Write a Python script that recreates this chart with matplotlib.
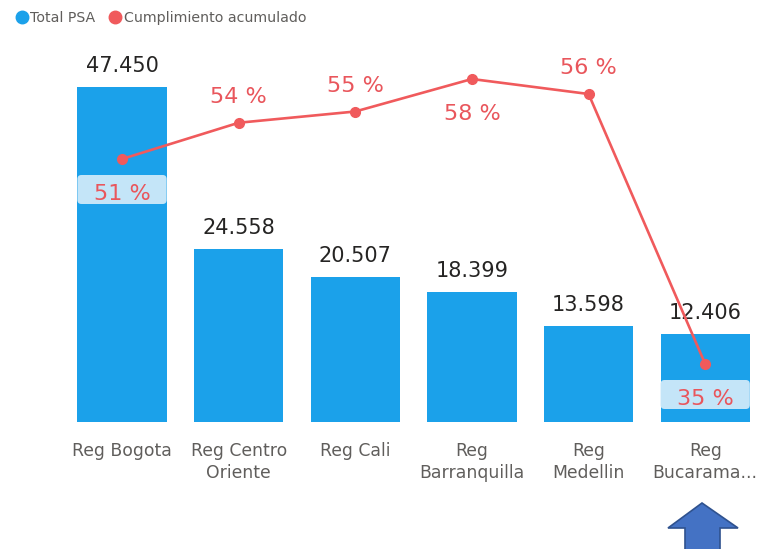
import matplotlib
matplotlib.use("Agg")
import matplotlib.pyplot as plt
from matplotlib.lines import Line2D
from matplotlib.patches import FancyBboxPatch, Polygon
from matplotlib.transforms import IdentityTransform

# data
regions = ["Reg Bogota", "Reg Centro\nOriente", "Reg Cali",
           "Reg\nBarranquilla", "Reg\nMedellin", "Reg\nBucarama..."]
total_psa = [47450, 24558, 20507, 18399, 13598, 12406]
cumplimiento = [51.2, 54.1, 55.0, 57.6, 56.4, 34.8]
series_names = ["Total PSA", "Cumplimiento acumulado"]

# label side for the line labels: 1 = above point, -1 = below point
label_side = [-1, 1, 1, -1, 1, -1]

BAR_COLOR = "#1BA1EA"
LINE_COLOR = "#F05A5C"
PCT_COLOR = "#E9565C"
TEXT_DARK = "#252423"
TEXT_GRAY = "#605E5C"
BOX_COLOR = "#C4E5F8"

W, H = 758, 549


def fx(x):
    return x / W


def fy(y):
    return 1 - y / H


fig = plt.figure(figsize=(W / 100, H / 100), dpi=100)
ax = fig.add_axes([fx(63.7), fy(422), 694 / W, 381 / H])

xs = list(range(len(regions)))
ax.bar(xs, total_psa, width=0.765, color=BAR_COLOR, zorder=1)
ax.set_xlim(-0.5, 5.45)
ax.set_ylim(0, 54000)

for x, v in zip(xs, total_psa):
    ax.annotate(f"{v:,}".replace(",", "."), (x, v), xytext=(0, 10.8),
                textcoords="offset points", ha="center", va="baseline",
                fontsize=15, color=TEXT_DARK)

ax.set_xticks(xs)
ax.set_xticklabels(regions, fontsize=12.4, color=TEXT_GRAY, linespacing=1.3)
ax.tick_params(axis="x", length=0, pad=14.5)
ax.set_yticks([])
for s in ax.spines.values():
    s.set_visible(False)

# secondary axis for the line
ax2 = ax.twinx()
ax2.set_ylim(30.16, 60.64)
ax2.set_yticks([])
for s in ax2.spines.values():
    s.set_visible(False)

# light boxes behind labels that sit inside a bar
fig.canvas.draw()
bar_half_px = 0.765 / 2 * 694 / 5.95
for x, v, side, b in zip(xs, cumplimiento, label_side, total_psa):
    px, py = ax2.transData.transform((x, v))
    _, bar_top = ax.transData.transform((x, b))
    if side < 0 and py - 45 < bar_top:
        box = FancyBboxPatch((px - bar_half_px, py - 45), 2 * bar_half_px, 29,
                             boxstyle="round,pad=0,rounding_size=4",
                             transform=IdentityTransform(), facecolor=BOX_COLOR,
                             edgecolor="none", zorder=2)
        ax2.add_artist(box)

ax2.plot(xs, cumplimiento, color=LINE_COLOR, lw=1.9, marker="o",
         markersize=7, zorder=3)

for x, v, side in zip(xs, cumplimiento, label_side):
    off = 14.4 if side > 0 else -29.5
    ax2.annotate(f"{round(v)} %", (x, v), xytext=(0, off),
                 textcoords="offset points", ha="center", va="baseline",
                 fontsize=16, color=PCT_COLOR, zorder=4)

# legend
handles = [Line2D([], [], marker="o", ls="none", color=BAR_COLOR, markersize=9),
           Line2D([], [], marker="o", ls="none", color=LINE_COLOR, markersize=9)]
fig.legend(handles, series_names, loc="upper left",
           bbox_to_anchor=(fx(16), fy(11)), ncol=2, frameon=False,
           fontsize=10.2, labelcolor=TEXT_GRAY, handlelength=0.8,
           handletextpad=0.2, columnspacing=1.0, borderpad=0,
           borderaxespad=0)

# blue arrow pointing at the last bar
arrow_pts = [(702, 503), (738, 528), (720, 528), (720, 552),
             (685, 552), (685, 528), (668, 528)]
fig.add_artist(Polygon([(fx(x), fy(y)) for x, y in arrow_pts], closed=True,
                       transform=fig.transFigure, facecolor="#4472C4",
                       edgecolor="#2F528F", lw=1.2))

fig.savefig("out.png", dpi=100)
